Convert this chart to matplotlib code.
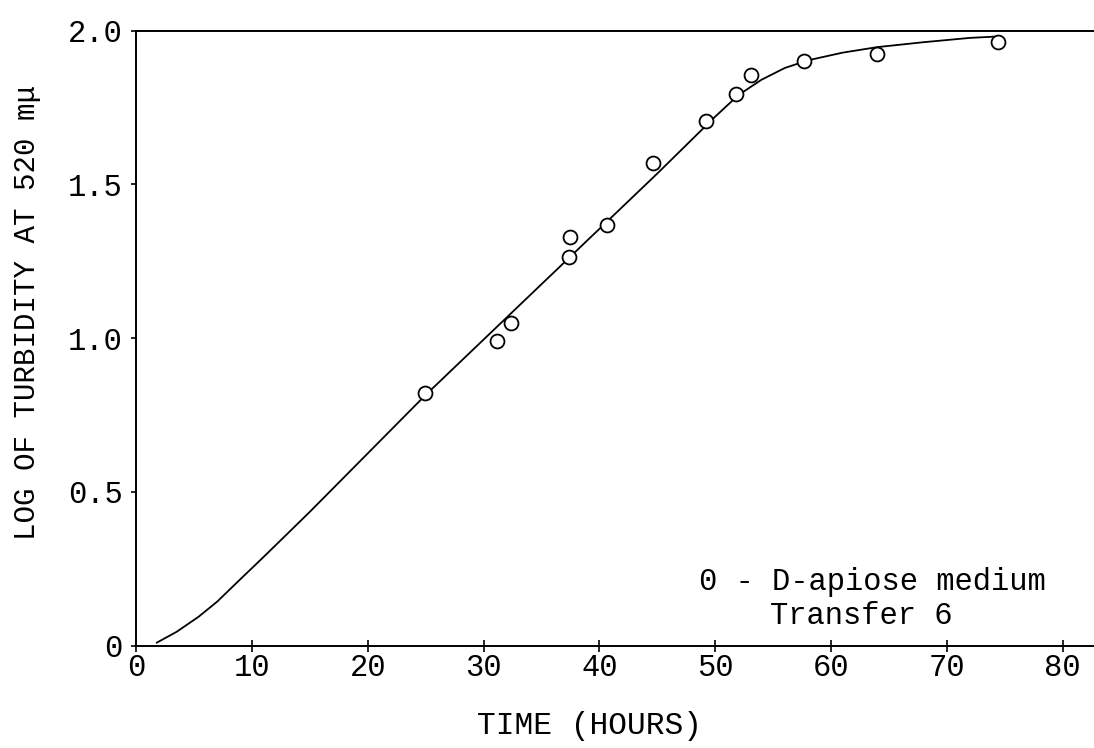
import matplotlib
matplotlib.use("Agg")
import matplotlib.pyplot as plt

# observed points (hours, log turbidity)
time_pts = [24.99, 31.14, 32.38, 37.35, 37.44, 40.67, 44.6, 49.2, 51.8, 53.1, 57.7, 63.96, 74.45]
log_pts = [0.822, 0.992, 1.048, 1.263, 1.330, 1.368, 1.569, 1.706, 1.793, 1.855, 1.901, 1.924, 1.964]

# hand-drawn growth curve
curve_x = [1.8, 3.5, 5.4, 7.0, 8.7, 11.0, 12.2, 15, 20, 25, 30, 35, 40, 45, 50, 52, 54,
           56, 58, 61, 64, 68, 72, 74.6]
curve_y = [0.01, 0.045, 0.094, 0.143, 0.205, 0.288, 0.332, 0.435, 0.625, 0.815, 0.995,
           1.175, 1.355, 1.535, 1.72, 1.79, 1.84, 1.878, 1.903, 1.928, 1.946, 1.962,
           1.976, 1.981]

xticks = [0, 10, 20, 30, 40, 50, 60, 70, 80]
xticklabels = ['0', '10', '20', '30', '40', '50', '60', '70', '80']
yticks = [0, 0.5, 1.0, 1.5, 2.0]
yticklabels = ['0', '0.5', '1.0', '1.5', '2.0']

plt.rcParams['font.family'] = ['Liberation Mono', 'DejaVu Sans Mono']

fig = plt.figure(figsize=(10.94, 7.48), dpi=100)
ax = fig.add_axes([136 / 1094, (748 - 645.7) / 748, 958 / 1094, 615.2 / 748])

ax.plot(curve_x, curve_y, color='black', lw=1.3, zorder=2)
ax.plot(time_pts, log_pts, 'o', ms=10, mfc='white', mec='black', mew=1.3, zorder=3)

ax.set_xlim(0, 82.7)
ax.set_ylim(0, 2.0)
ax.set_xticks(xticks)
ax.set_xticklabels(xticklabels)
ax.set_yticks(yticks)
ax.set_yticklabels(yticklabels)
ax.tick_params(axis='x', direction='inout', length=8, width=1.2, pad=1, labelsize=22)
ax.tick_params(axis='y', direction='out', length=3.6, width=1.2, pad=6, labelsize=22)

ax.spines['right'].set_visible(False)
for s in ['left', 'bottom', 'top']:
    ax.spines[s].set_linewidth(1.4)

ax.set_xlabel('TIME (HOURS)', fontsize=22.5)
ax.xaxis.set_label_coords(0.473, -0.106)
ax.set_ylabel('LOG OF TURBIDITY AT 520 m\u03bc', fontsize=21)
ax.yaxis.set_label_coords(-0.099, 0.541)

ax.text(0.588, 0.0905, '0 - D-apiose medium', transform=ax.transAxes,
        fontsize=22, va='baseline', ha='left')
ax.text(0.662, 0.035, 'Transfer 6', transform=ax.transAxes,
        fontsize=22, va='baseline', ha='left')

fig.savefig('out.png', dpi=100)
